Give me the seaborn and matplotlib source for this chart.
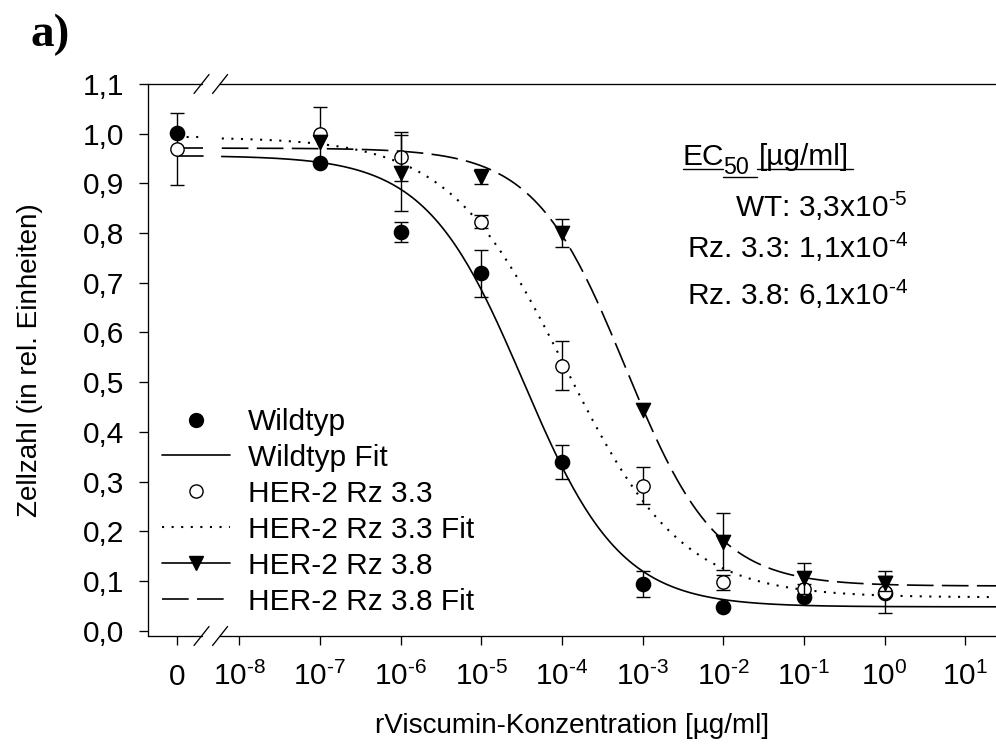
import numpy as np
import pandas as pd
import matplotlib
matplotlib.use("Agg")
import matplotlib.pyplot as plt
import seaborn as sns
from matplotlib.lines import Line2D
from matplotlib.ticker import NullLocator

# ---------------- data ----------------
concentration = [0, 1e-7, 1e-6, 1e-5, 1e-4, 1e-3, 1e-2, 1e-1, 1e0]

wt_mean = [1.001, 0.942, 0.803, 0.719, 0.340, 0.094, 0.048, 0.067, 0.075]
wt_err = [0.0, 0.0, 0.020, 0.047, 0.034, 0.027, 0.0, 0.0, 0.0]

rz33_mean = [0.969, 0.999, 0.954, 0.823, 0.533, 0.292, 0.097, 0.083, 0.078]
rz33_err = [0.073, 0.054, 0.050, 0.013, 0.049, 0.038, 0.016, 0.010, 0.042]

rz38_mean = [np.nan, 0.983, 0.921, 0.913, 0.801, 0.444, 0.179, 0.105, 0.095]
rz38_err = [np.nan, 0.0, 0.076, 0.015, 0.028, 0.0, 0.057, 0.031, 0.016]

# 4-parameter logistic fit parameters (WT, Rz 3.3, Rz 3.8)
fit_names = ["Wildtyp Fit", "HER-2 Rz 3.3 Fit", "HER-2 Rz 3.8 Fit"]
fit_top = [0.956, 0.993, 0.971]
fit_bottom = [0.048, 0.067, 0.090]
fit_ec50 = [3.3e-5, 1.1e-4, 6.1e-4]
fit_hill = [0.72, 0.60, 0.77]

x_tick_values = [0, 1e-8, 1e-7, 1e-6, 1e-5, 1e-4, 1e-3, 1e-2, 1e-1, 1e0, 1e1]
x_tick_labels = ["0", r"$10^{\text{-}8}$", r"$10^{\text{-}7}$", r"$10^{\text{-}6}$",
                 r"$10^{\text{-}5}$", r"$10^{\text{-}4}$", r"$10^{\text{-}3}$",
                 r"$10^{\text{-}2}$", r"$10^{\text{-}1}$", r"$10^{0}$", r"$10^{1}$"]
y_tick_values = [0.0, 0.1, 0.2, 0.3, 0.4, 0.5, 0.6, 0.7, 0.8, 0.9, 1.0, 1.1]
y_tick_labels = ["0,0", "0,1", "0,2", "0,3", "0,4", "0,5", "0,6", "0,7", "0,8", "0,9", "1,0", "1,1"]

ec50_header = ["EC", "50", "[µg/ml]"]
ec50_lines = [r"WT: 3,3x10$^{\text{-}5}$", r"Rz. 3.3: 1,1x10$^{\text{-}4}$",
              r"Rz. 3.8: 6,1x10$^{\text{-}4}$"]

# ---------------- layout constants ----------------
W, H = 996, 751
ZERO_LOG = -8.776          # where the "0" dose sits on the broken log axis
XMIN_LOG, XMAX_LOG = -9.129, 1.381
BREAK1_LOG, BREAK2_LOG = -8.469, -8.239
LEFT_SEG_END_LOG, RIGHT_SEG_START_LOG = -8.45, -8.218

sns.set_theme(style="ticks")
plt.rcParams["font.family"] = ["Liberation Sans", "DejaVu Sans"]
plt.rcParams["mathtext.fontset"] = "custom"
plt.rcParams["mathtext.rm"] = "Liberation Sans"
plt.rcParams["mathtext.it"] = "Liberation Sans:italic"
plt.rcParams["mathtext.bf"] = "Liberation Sans:bold"
plt.rcParams["mathtext.default"] = "regular"

FS = 21.5
FS_LAB = 20.1

fig = plt.figure(figsize=(W / 100, H / 100), dpi=100)
ax = fig.add_axes([148.3 / W, 1 - 636 / H, (W - 148.3) / W, (636 - 84) / H])
ax.set_xscale("log")


def xpos(c):
    return np.array([10 ** ZERO_LOG if v == 0 else v for v in c], dtype=float)


def logistic(x, top, bottom, ec50, hill):
    x = np.asarray(x, dtype=float)
    return bottom + (top - bottom) / (1.0 + (x / ec50) ** hill)


# ---------------- fit curves ----------------
fit_styles = [
    dict(linestyle="-", lw=1.2),
    dict(linestyle=(0, (1, 3.6)), lw=1.5),
    dict(linestyle=(0, (16, 5)), lw=1.2),
]
for i in range(3):
    xl = np.array([10 ** ZERO_LOG, 10 ** LEFT_SEG_END_LOG])
    yl = np.full(2, logistic(0.0, fit_top[i], fit_bottom[i], fit_ec50[i], fit_hill[i]))
    sns.lineplot(x=xl, y=yl, ax=ax, color="black", errorbar=None, **fit_styles[i])
    xr = np.logspace(RIGHT_SEG_START_LOG, XMAX_LOG, 400)
    yr = logistic(xr, fit_top[i], fit_bottom[i], fit_ec50[i], fit_hill[i])
    sns.lineplot(x=xr, y=yr, ax=ax, color="black", errorbar=None, **fit_styles[i])

# ---------------- data points ----------------
xp = xpos(concentration)
series = [
    (wt_mean, wt_err, "o", "black", 105),
    (rz33_mean, rz33_err, "o", "white", 92),
    (rz38_mean, rz38_err, "v", "black", 105),
]
z = 3
for mean, err, mk, fc, s in series:
    m = np.array(mean, dtype=float)
    e = np.array(err, dtype=float)
    ok = ~np.isnan(m) & (np.nan_to_num(e) > 0)
    ax.errorbar(xp[ok], m[ok], yerr=e[ok], fmt="none", ecolor="black",
                elinewidth=1.0, capsize=4.7, capthick=1.0, zorder=z)
    df = pd.DataFrame({"x": xp, "y": m}).dropna()
    sns.scatterplot(data=df, x="x", y="y", ax=ax, marker=mk, s=s, color=fc,
                    edgecolor="black", linewidth=1.0, zorder=z + 1)
    z += 2

# ---------------- axes ----------------
ax.set_xlim(10 ** XMIN_LOG, 10 ** XMAX_LOG)
ax.set_ylim(-0.0107, 1.1)
ax.set_xticks(xpos(x_tick_values))
ax.set_xticklabels(x_tick_labels)
ax.xaxis.set_minor_locator(NullLocator())
ax.set_yticks(y_tick_values)
ax.set_yticklabels(y_tick_labels)
ax.tick_params(axis="both", direction="out", length=6.5, width=0.95, color="black",
               labelsize=FS, labelcolor="black")
ax.tick_params(axis="x", pad=28.5)
ax.tick_params(axis="y", pad=11)
for lab in ax.get_xticklabels():
    lab.set_va("baseline")
ax.set_xlabel("")
ax.set_ylabel("")

for side in ["top", "bottom", "right"]:
    ax.spines[side].set_visible(False)
ax.spines["left"].set_linewidth(0.95)
ax.spines["left"].set_color("black")

trans = ax.get_xaxis_transform()
for yy in (0, 1):
    ax.plot([10 ** XMIN_LOG, 10 ** BREAK1_LOG], [yy, yy], color="black", lw=0.95,
            transform=trans, clip_on=False, zorder=10)
    ax.plot([10 ** BREAK2_LOG, 10 ** XMAX_LOG], [yy, yy], color="black", lw=0.95,
            transform=trans, clip_on=False, zorder=10)
    for b in (BREAK1_LOG, BREAK2_LOG):
        ax.plot([10 ** (b - 0.093), 10 ** (b + 0.093)], [yy - 0.0172, yy + 0.0172],
                color="black", lw=0.95, transform=trans, clip_on=False, zorder=10)

fig.text(572 / W, 1 - 733 / H, "rViscumin-Konzentration [µg/ml]", ha="center",
         va="baseline", fontsize=FS_LAB, color="black")
fig.text(30 / W, 1 - 360 / H, "Zellzahl (in rel. Einheiten)", ha="center",
         va="center", rotation=90, rotation_mode="anchor", fontsize=FS_LAB, color="black")

# ---------------- legend ----------------
handles = [
    Line2D([], [], linestyle="none", marker="o", markersize=10, color="black"),
    Line2D([], [], linestyle="-", lw=1.2, color="black"),
    Line2D([], [], linestyle="none", marker="o", markersize=9.5, markerfacecolor="white",
           markeredgecolor="black", markeredgewidth=1.0),
    Line2D([], [], linestyle=(0, (1, 3.6)), lw=1.5, color="black"),
    Line2D([], [], linestyle="-", lw=1.2, marker="v", markersize=10, color="black"),
    Line2D([], [], linestyle=(0, (16, 5)), lw=1.2, color="black"),
]
labels = ["Wildtyp", "Wildtyp Fit", "HER-2 Rz 3.3", "HER-2 Rz 3.3 Fit", "HER-2 Rz 3.8",
          "HER-2 Rz 3.8 Fit"]
leg = ax.legend(handles, labels, loc="upper left", bbox_to_anchor=(161.7 / W, 1 - 408 / H),
                bbox_transform=fig.transFigure, frameon=False, fontsize=FS,
                handlelength=2.3, handletextpad=0.6, labelspacing=0.265,
                borderpad=0, borderaxespad=0)
for t in leg.get_texts():
    t.set_color("black")

# ---------------- EC50 annotation ----------------
fig.text(682.7 / W, 1 - 165 / H, ec50_header[0], ha="left", va="baseline", fontsize=FS, color="black")
fig.text(723.3 / W, 1 - 174 / H, ec50_header[1], ha="left", va="baseline", fontsize=FS * 0.78,
         color="black")
fig.text(759 / W, 1 - 165 / H, ec50_header[2], ha="left", va="baseline", fontsize=FS, color="black")
for txt, yb in zip(ec50_lines, [217.3, 258.3, 305]):
    fig.text(908 / W, 1 - yb / H, txt, ha="right", va="baseline", fontsize=FS, color="black")
for x0, x1, yy in [(682.7, 723.3, 169.3), (723.3, 756.7, 176.7), (756.7, 853.3, 169.3)]:
    fig.add_artist(Line2D([x0 / W, x1 / W], [1 - yy / H, 1 - yy / H], color="black",
                          lw=1.0, transform=fig.transFigure))

fig.text(30 / W, 1 - 46 / H, "a)", ha="left", va="baseline", fontsize=34,
         fontweight="bold", family=["Liberation Serif", "DejaVu Serif"], color="black")

fig.savefig("out.png", dpi=100)
